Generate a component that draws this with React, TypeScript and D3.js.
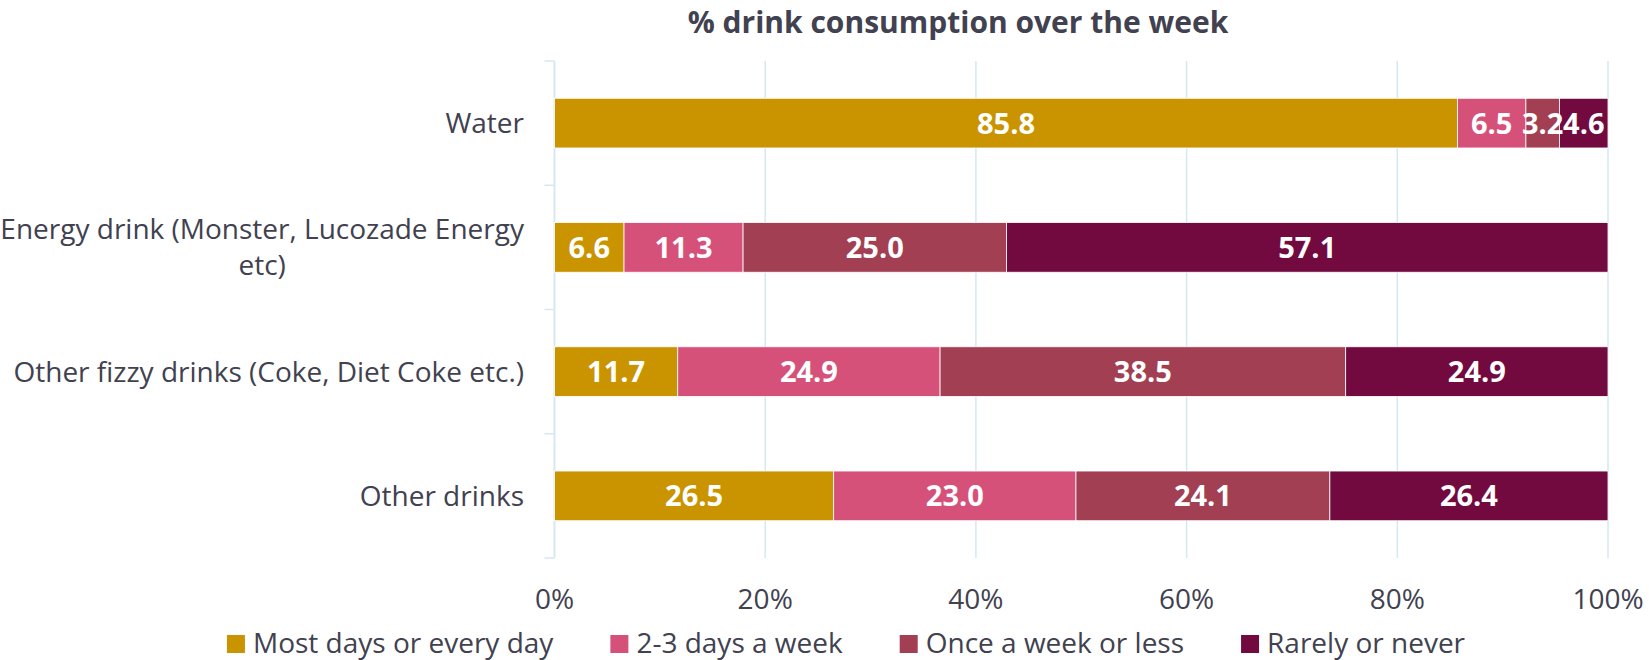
import { useEffect, useRef } from "react";
import * as d3 from "d3";

// chart values
const categories = [
  "Water",
  "Energy drink (Monster, Lucozade Energy etc)",
  "Other fizzy drinks (Coke, Diet Coke etc.)",
  "Other drinks",
];
const seriesNames = [
  "Most days or every day",
  "2-3 days a week",
  "Once a week or less",
  "Rarely or never",
];
const mostDays = [85.8, 6.6, 11.7, 26.5];
const twoThreeDays = [6.5, 11.3, 24.9, 23.0];
const onceAWeek = [3.2, 25.0, 38.5, 24.1];
const rarely = [4.6, 57.1, 24.9, 26.4];
const xTicks = [0, 0.2, 0.4, 0.6, 0.8, 1];
const colors = ["#C99400", "#D6517A", "#A23F52", "#720A40"];

const W = 1649;
const H = 660;
const FONT = "'Open Sans', Lato, sans-serif";
const TEXT = "#414150";
const GRID = "#D5E8F0";

export default function App() {
  const svgRef = useRef<SVGSVGElement>(null);

  useEffect(() => {
    const svg = d3.select(svgRef.current);
    svg.selectAll("*").remove();

    const rows = categories.map((c, i) => ({
      category: c,
      [seriesNames[0]]: mostDays[i],
      [seriesNames[1]]: twoThreeDays[i],
      [seriesNames[2]]: onceAWeek[i],
      [seriesNames[3]]: rarely[i],
    }));

    const stacked = d3
      .stack<any>()
      .keys(seriesNames)
      .offset(d3.stackOffsetExpand)(rows);

    const x = d3.scaleLinear().domain([0, 1]).range([554.5, 1608]);
    const y = d3
      .scaleBand()
      .domain(categories)
      .range([61, 558])
      .paddingInner(0.6)
      .paddingOuter(0.3);

    const [top, bottom] = y.range();

    // gridlines
    svg
      .append("g")
      .selectAll("line")
      .data(xTicks)
      .join("line")
      .attr("x1", (d) => x(d))
      .attr("x2", (d) => x(d))
      .attr("y1", top)
      .attr("y2", bottom)
      .attr("stroke", GRID)
      .attr("stroke-width", 1.5);

    // category axis line + ticks at band boundaries
    const half = (y.step() - y.bandwidth()) / 2;
    const bounds = categories.map((c) => (y(c) as number) - half);
    bounds.push(bounds[bounds.length - 1] + y.step());
    const axisG = svg.append("g");
    axisG
      .append("line")
      .attr("x1", x(0))
      .attr("x2", x(0))
      .attr("y1", top)
      .attr("y2", bottom)
      .attr("stroke", GRID)
      .attr("stroke-width", 1.5);
    axisG
      .selectAll("line.tick")
      .data(bounds)
      .join("line")
      .attr("class", "tick")
      .attr("x1", x(0) - 10)
      .attr("x2", x(0))
      .attr("y1", (d) => d)
      .attr("y2", (d) => d)
      .attr("stroke", GRID)
      .attr("stroke-width", 1.5);

    // bars
    const layers = svg
      .append("g")
      .selectAll("g")
      .data(stacked)
      .join("g")
      .attr("fill", (d, i) => colors[i]);

    layers
      .selectAll("rect")
      .data((d) => d)
      .join("rect")
      .attr("x", (d) => x(d[0]))
      .attr("width", (d) => x(d[1]) - x(d[0]))
      .attr("y", (d: any) => y(d.data.category) as number)
      .attr("height", y.bandwidth())
      .attr("stroke", "#fff")
      .attr("stroke-width", 0.8);

    // value labels
    const fmt = d3.format(".1f");
    stacked.forEach((layer) => {
      svg
        .append("g")
        .selectAll("text")
        .data(layer)
        .join("text")
        .attr("x", (d) => (x(d[0]) + x(d[1])) / 2)
        .attr("y", (d: any) => (y(d.data.category) as number) + y.bandwidth() / 2)
        .attr("dy", "0.36em")
        .attr("text-anchor", "middle")
        .attr("font-family", FONT)
        .attr("font-weight", "bold")
        .attr("font-size", 29)
        .attr("fill", "#fff")
        .text((d: any) => fmt(d.data[layer.key]));
    });

    // category labels (wrapped)
    const labelRight = 524;
    const maxWidth = 540;
    const lineH = 36;
    categories.forEach((c) => {
      const t = svg
        .append("text")
        .attr("font-family", FONT)
        .attr("font-size", 28)
        .attr("fill", TEXT)
        .attr("text-anchor", "middle");
      const words = c.split(" ");
      const lines: string[] = [];
      let cur = "";
      const probe = t.append("tspan");
      words.forEach((w) => {
        const test = cur ? cur + " " + w : w;
        probe.text(test);
        if ((probe.node() as SVGTSpanElement).getComputedTextLength() > maxWidth && cur) {
          lines.push(cur);
          cur = w;
        } else cur = test;
      });
      lines.push(cur);
      probe.remove();
      const widths = lines.map((l) => {
        const p = t.append("tspan").text(l);
        const wdt = (p.node() as SVGTSpanElement).getComputedTextLength();
        p.remove();
        return wdt;
      });
      const blockW = d3.max(widths) as number;
      const cx = labelRight - blockW / 2;
      const cy = (y(c) as number) + y.bandwidth() / 2;
      lines.forEach((l, i) => {
        t.append("tspan")
          .attr("x", cx)
          .attr("y", cy + (i - (lines.length - 1) / 2) * lineH)
          .attr("dy", "0.36em")
          .text(l);
      });
    });

    // x tick labels
    svg
      .append("g")
      .selectAll("text")
      .data(xTicks)
      .join("text")
      .attr("x", (d) => x(d))
      .attr("y", 609)
      .attr("text-anchor", "middle")
      .attr("font-family", FONT)
      .attr("font-size", 28)
      .attr("fill", TEXT)
      .text(d3.format(".0%"));

    // title
    svg
      .append("text")
      .attr("x", 958)
      .attr("y", 33)
      .attr("text-anchor", "middle")
      .attr("font-family", FONT)
      .attr("font-weight", "bold")
      .attr("font-size", 30)
      .attr("fill", TEXT)
      .text("% drink consumption over the week");

    // legend
    const legend = svg.append("g");
    const items = seriesNames.map((name, i) => {
      const g = legend.append("g");
      g.append("rect")
        .attr("y", 635)
        .attr("width", 18)
        .attr("height", 18)
        .attr("fill", colors[i]);
      const txt = g
        .append("text")
        .attr("x", 26)
        .attr("y", 653)
        .attr("font-family", FONT)
        .attr("font-size", 28)
        .attr("fill", TEXT)
        .text(name);
      const w = 26 + (txt.node() as SVGTextElement).getComputedTextLength();
      return { g, w };
    });
    const gap = 57;
    const total = d3.sum(items, (d) => d.w) + gap * (items.length - 1);
    let lx = 846 - total / 2;
    items.forEach((it) => {
      it.g.attr("transform", `translate(${lx},0)`);
      lx += it.w + gap;
    });
  }, []);

  return (
    <svg
      ref={svgRef}
      width={W}
      height={H}
      style={{ position: "absolute", left: 0, top: 0, background: "#fff" }}
    />
  );
}
